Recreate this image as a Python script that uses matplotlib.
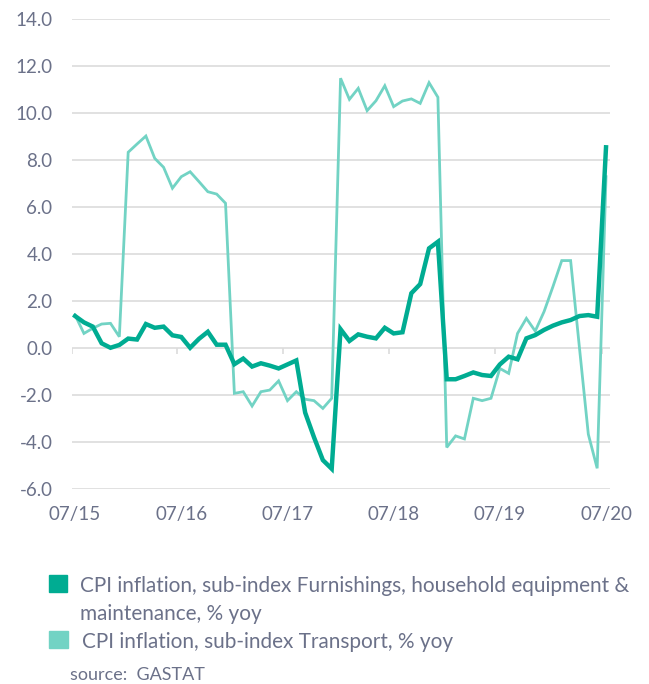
import matplotlib
matplotlib.use("Agg")
import matplotlib.pyplot as plt
from matplotlib.patches import Rectangle
import numpy as np

# ---------------- data ----------------
x_labels = ["07/15", "07/16", "07/17", "07/18", "07/19", "07/20"]

furnishings = [1.36, 1.09, 0.91, 0.20, 0.01, 0.13, 0.40, 0.36, 1.02, 0.86, 0.91, 0.54,
               0.47, 0.01, 0.39, 0.69, 0.14, 0.14, -0.69, -0.45, -0.79, -0.65, -0.75, -0.87,
               -0.70, -0.53, -2.75, -3.80, -4.77, -5.14, 0.80, 0.30, 0.58, 0.48, 0.41, 0.86,
               0.62, 0.67, 2.33, 2.72, 4.24, 4.52, -1.33, -1.33, -1.19, -1.04, -1.15, -1.19,
               -0.70, -0.37, -0.48, 0.41, 0.55, 0.77, 0.95, 1.09, 1.19, 1.36, 1.40, 1.33,
               8.54]

transport = [1.40, 0.62, 0.84, 1.02, 1.05, 0.48, 8.33, 8.68, 9.02, 8.07, 7.69, 6.80,
             7.29, 7.50, 7.08, 6.65, 6.55, 6.16, -1.93, -1.86, -2.47, -1.86, -1.79, -1.40,
             -2.24, -1.86, -2.18, -2.24, -2.57, -2.14, 11.48, 10.58, 11.05, 10.10, 10.52, 11.16,
             10.27, 10.51, 10.60, 10.41, 11.29, 10.67, -4.23, -3.74, -3.87, -2.14, -2.24, -2.14,
             -0.87, -1.08, 0.62, 1.26, 0.72, 1.55, 2.61, 3.72, 3.72, 0.00, -3.67, -5.12,
             7.29]

series_names = ["CPI inflation, sub-index Furnishings, household equipment &\nmaintenance, % yoy",
                "CPI inflation, sub-index Transport, % yoy"]
source_text = "source:  GASTAT"

y_ticks = [-6, -4, -2, 0, 2, 4, 6, 8, 10, 12, 14]

# ---------------- style ----------------
DARK = "#00AC92"
LIGHT = "#72D3C4"
TEXT = "#6B7189"
GRID = "#DCDCDC"
FONT = "Lato"

plt.rcParams["font.family"] = [FONT, "DejaVu Sans"]

fig = plt.figure(figsize=(6.49, 6.84), dpi=100)
W, H = 649, 684
ax = fig.add_axes([72 / W, (H - 489) / H, (610 - 72) / W, (489 - 19) / H])

idx = np.arange(len(furnishings))
ax.plot(idx, transport, color=LIGHT, lw=2.0, solid_joinstyle="miter", zorder=3)
ax.plot(idx, furnishings, color=DARK, lw=3.2, solid_joinstyle="miter", zorder=4)

ax.set_xlim(-0.35, len(idx) - 1 + 0.45)
ax.set_ylim(-6, 14)
ax.set_yticks(y_ticks)
ax.set_yticklabels([f"{v:.1f}" for v in y_ticks])
ax.set_xticks(np.arange(0, len(idx), 12))
ax.set_xticklabels(x_labels)
ax.tick_params(axis="both", length=0, labelsize=13.5, labelcolor=TEXT)
ax.tick_params(axis="y", pad=14)
ax.tick_params(axis="x", pad=12)

for v in y_ticks:
    ax.axhline(v, color=GRID, lw=1.2, zorder=1)
# small category-boundary ticks on the zero line
bounds = [-0.35] + list(np.arange(11.5, len(idx), 12))
ax.vlines(bounds, -0.26, 0, color=GRID, lw=1.2, zorder=1)

for s in ax.spines.values():
    s.set_visible(False)

# ---------------- legend ----------------
renderer = fig.canvas.get_renderer()


def fitted_size(text, target_px, base=14.0):
    t = fig.text(0, 0, text, fontsize=base)
    w = t.get_window_extent(renderer=renderer).width
    t.remove()
    return base * target_px / w


lines = series_names[0].split("\n")
fs_leg = fitted_size(lines[0], 551)
fs_src = fitted_size(source_text, 136)

fig.patches.append(Rectangle((49 / W, (H - 592) / H), 18 / W, 17 / H,
                             transform=fig.transFigure, color=DARK))
fig.text(80 / W, (H - 591.5) / H, lines[0], fontsize=fs_leg, color=TEXT, va="baseline")
fig.text(80 / W, (H - 620) / H, lines[1], fontsize=fs_leg, color=TEXT, va="baseline")
fig.patches.append(Rectangle((49 / W, (H - 648) / H), 19 / W, 17 / H,
                             transform=fig.transFigure, color=LIGHT))
fig.text(82 / W, (H - 647.5) / H, series_names[1], fontsize=fs_leg, color=TEXT, va="baseline")
fig.text(70.5 / W, (H - 680) / H, source_text, fontsize=fs_src, color=TEXT, va="baseline")

fig.savefig("out.png", dpi=100)
